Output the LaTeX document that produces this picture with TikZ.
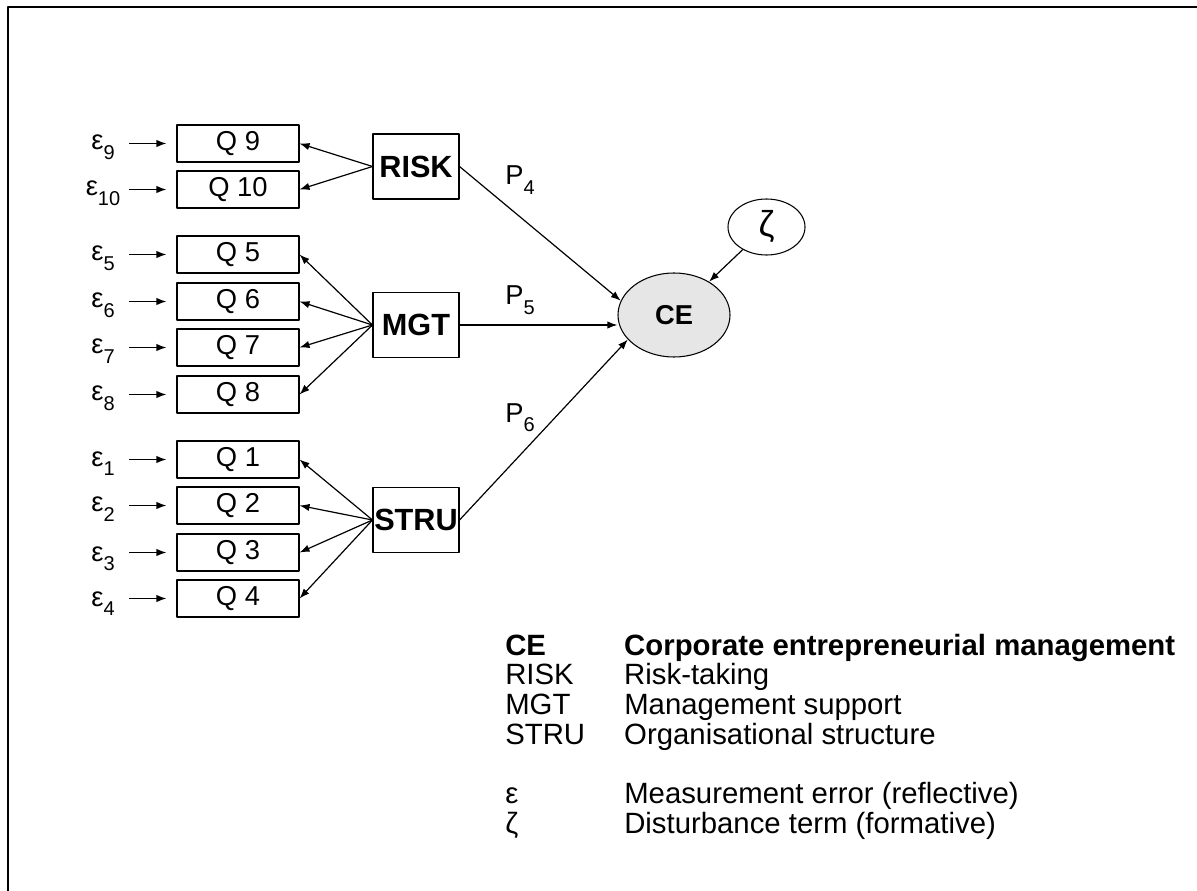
\documentclass[tikz,border=0pt]{standalone}
\usepackage{fontspec}
\setmainfont{Liberation Sans}
\usetikzlibrary{positioning,shapes.geometric,arrows.meta}

\definecolor{cegray}{RGB}{230,230,230}
\newcommand\lowidx[2]{#1\raisebox{-0.33em}{\fontsize{15}{15}\selectfont #2}}

\begin{document}
\fontsize{20.5}{21.75}\selectfont
\begin{tikzpicture}[x=0.75pt,y=-0.75pt,line join=round,
    qbox/.style={draw,line width=0.8pt,minimum width=91.5pt,minimum height=27.75pt,inner sep=0pt},
    latent/.style={draw,line width=0.8pt,minimum width=64.5pt,minimum height=48.75pt,inner sep=0pt,
                   font=\fontsize{23}{23}\selectfont\bfseries},
    errlab/.style={anchor=base,inner sep=0pt},
    plab/.style={anchor=base west,inner sep=0pt},
    link/.style={-{Latex[length=7.5pt,width=5.5pt]},line width=0.9pt}]
        \useasboundingbox (0,0) rectangle (1197,891);

        % Marco
        \draw[line width=1.5pt] (8,891) -- (8,7) -- (1197,7);

        % Indicadores
        \node[qbox] (q9)  at (238,143.5) {Q 9};
        \node[qbox] (q10) at (238,189.5) {Q 10};
        \node[qbox] (q5)  at (238,254.5) {Q 5};
        \node[qbox] (q6)  at (238,301.5) {Q 6};
        \node[qbox] (q7)  at (238,347.5) {Q 7};
        \node[qbox] (q8)  at (238,394.5) {Q 8};
        \node[qbox] (q1)  at (238,459.5) {Q 1};
        \node[qbox] (q2)  at (238,505.5) {Q 2};
        \node[qbox] (q3)  at (238,552.5) {Q 3};
        \node[qbox] (q4)  at (238,598.5) {Q 4};

        % Constructos
        \node[latent] (risk) at (416,166.5) {RISK};
        \node[latent] (mgt)  at (416,325)   {MGT};
        \node[latent] (stru) at (416,520)   {STRU};
        \node[ellipse,draw,line width=0.8pt,fill=cegray,minimum width=84pt,
              minimum height=63pt,inner sep=0pt,font=\bfseries] (ce) at (674,315) {CE};
        \node[ellipse,draw,line width=0.8pt,minimum width=57.75pt,
              minimum height=42pt,inner sep=0pt] (zeta) at (766.5,227) {\fontsize{27}{27}\selectfont ζ};

        % Errores de medida
        \coordinate[left=35.25pt of q9.west]  (s9);
        \coordinate[left=35.25pt of q10.west] (s10);
        \coordinate[left=35.25pt of q5.west]  (s5);
        \coordinate[left=35.25pt of q6.west]  (s6);
        \coordinate[left=35.25pt of q7.west]  (s7);
        \coordinate[left=35.25pt of q8.west]  (s8);
        \coordinate[left=35.25pt of q1.west]  (s1);
        \coordinate[left=35.25pt of q2.west]  (s2);
        \coordinate[left=35.25pt of q3.west]  (s3);
        \coordinate[left=35.25pt of q4.west]  (s4);
        \node[errlab] (e9)  at (103,150)   {\lowidx{ε}{9}};
        \node[errlab] (e10) at (103,196)   {\lowidx{ε}{10}};
        \node[errlab] (e5)  at (103,261)   {\lowidx{ε}{5}};
        \node[errlab] (e6)  at (103,308)   {\lowidx{ε}{6}};
        \node[errlab] (e7)  at (103,354)   {\lowidx{ε}{7}};
        \node[errlab] (e8)  at (103,401)   {\lowidx{ε}{8}};
        \node[errlab] (e1)  at (103,466)   {\lowidx{ε}{1}};
        \node[errlab] (e2)  at (103,512)   {\lowidx{ε}{2}};
        \node[errlab] (e3)  at (103,561)   {\lowidx{ε}{3}};
        \node[errlab] (e4)  at (103,606)   {\lowidx{ε}{4}};
        \draw[link,shorten >=7.5pt] (s9) -- (q9);
        \draw[link,shorten >=7.5pt] (s10) -- (q10);
        \draw[link,shorten >=7.5pt] (s5) -- (q5);
        \draw[link,shorten >=7.5pt] (s6) -- (q6);
        \draw[link,shorten >=7.5pt] (s7) -- (q7);
        \draw[link,shorten >=7.5pt] (s8) -- (q8);
        \draw[link,shorten >=7.5pt] (s1) -- (q1);
        \draw[link,shorten >=7.5pt] (s2) -- (q2);
        \draw[link,shorten >=7.5pt] (s3) -- (q3);
        \draw[link,shorten >=7.5pt] (s4) -- (q4);

        % Cargas reflectivas
        \draw[link] (risk.west) -- (q9.east);
        \draw[link] (risk.west) -- (q10.east);
        \draw[link] (mgt.west) -- (q5.east);
        \draw[link] (mgt.west) -- (q6.east);
        \draw[link] (mgt.west) -- (q7.east);
        \draw[link] (mgt.west) -- (q8.east);
        \draw[link] (stru.west) -- (q1.east);
        \draw[link] (stru.west) -- (q2.east);
        \draw[link] (stru.west) -- (q3.east);
        \draw[link] (stru.west) -- (q4.east);

        % Caminos estructurales
        \draw[link] (risk.east) -- (ce.165);
        \draw[link] (mgt.east) -- (mgt.east -| ce.west);
        \draw[link] (stru.east) -- (ce.208);
        \draw[link] (zeta) -- (ce);
        \node[plab] (p4) at (505,185) {\lowidx{P}{4}};
        \node[plab] (p5) at (505,305) {\lowidx{P}{5}};
        \node[plab] (p6) at (505,422) {\lowidx{P}{6}};

        % Leyenda
        \node[anchor=base west,inner sep=0pt,font=\fontsize{22}{21.75}\selectfont] (legend) at (505,655)
            {\begin{tabular}[t]{@{}p{89.25pt}@{}l@{}}
             \textbf{CE} & \textbf{Corporate entrepreneurial management}\\
             RISK & Risk-taking\\
             MGT  & Management support\\
             STRU & Organisational structure\\
                  & \\
             ε    & Measurement error (reflective)\\
             ζ    & Disturbance term (formative)
             \end{tabular}};
    \end{tikzpicture}
\end{document}
